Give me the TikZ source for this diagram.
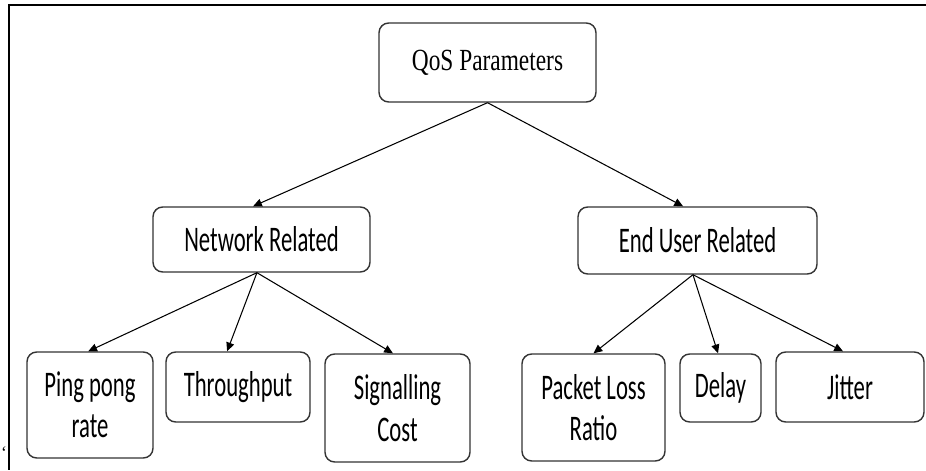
\documentclass[tikz,border=0pt]{standalone}
\usepackage{fontspec}
\setmainfont{Liberation Serif}
\newfontfamily\headfont[FakeStretch=0.76]{Liberation Serif}
\newfontfamily\leaffont[FakeStretch=0.63]{Carlito}
\usetikzlibrary{arrows.meta, calc}

\begin{document}
\begin{tikzpicture}[x=0.02cm, y=-0.02cm, >={Triangle[length=5pt, width=4.5pt]},
    box/.style={draw=black!80, line width=0.8pt, rounded corners=5.5pt, inner sep=0pt, align=center},
    headbox/.style={box, font=\fontsize{17.5}{20}\selectfont\headfont},
    leafbox/.style={box, font=\fontsize{20.5}{23.5}\selectfont\leaffont},
    link/.style={->, line width=0.6pt}]
    \useasboundingbox (0,0) rectangle (926,470);

    % frame on top and left side only
    \draw[line width=0.8pt] (926,5) -- (9,5) -- (9,470);
    \node (tick) at (4,453) {`};

    % top level
    \node[headbox, minimum width=4.34cm, minimum height=1.58cm] (qos) at (487.5,62.5) {QoS Parameters};

    % second level
    \node[leafbox, minimum width=4.34cm, minimum height=1.30cm] (net) at (261.5,239.5) {Network Related};
    \node[leafbox, minimum width=4.78cm, minimum height=1.34cm] (end) at (697.5,240.5) {End User Related};

    % leaves
    \node[leafbox, minimum width=2.52cm, minimum height=2.12cm] (ping) at (90,405) {Ping pong\\rate};
    \node[leafbox, minimum width=2.88cm, minimum height=1.40cm] (thr) at (238,387) {Throughput};
    \node[leafbox, minimum width=2.90cm, minimum height=2.16cm] (sig) at (397.5,408) {Signalling\\Cost};
    \node[leafbox, minimum width=2.86cm, minimum height=2.14cm] (pkt) at (593.5,407.5) {Packet Loss\\Ratio};
    \node[leafbox, minimum width=1.62cm, minimum height=1.36cm] (del) at (720.5,388) {Delay};
    \node[leafbox, minimum width=2.96cm, minimum height=1.40cm] (jit) at (850,387) {Jitter};

    % connectors
    \draw[link] (qos.south) -- ([xshift=-4.8pt]net.north);
    \draw[link] (qos.south) -- ([xshift=-8.2pt]end.north);
    \draw[link] ([xshift=-2.6pt]net.south) -- ([xshift=-1pt]ping.north);
    \draw[link] ([xshift=-2.6pt]net.south) -- ([xshift=-6.2pt]thr.north);
    \draw[link] ([xshift=-2.6pt]net.south) -- ([xshift=-2.6pt]sig.north);
    \draw[link] ([xshift=-2.6pt]end.south) -- (pkt.north);
    \draw[link] ([xshift=-2.6pt]end.south) -- ([xshift=-1.4pt]del.north);
    \draw[link] ([xshift=-2.6pt]end.south) -- ([xshift=-4pt]jit.north);
\end{tikzpicture}
\end{document}
